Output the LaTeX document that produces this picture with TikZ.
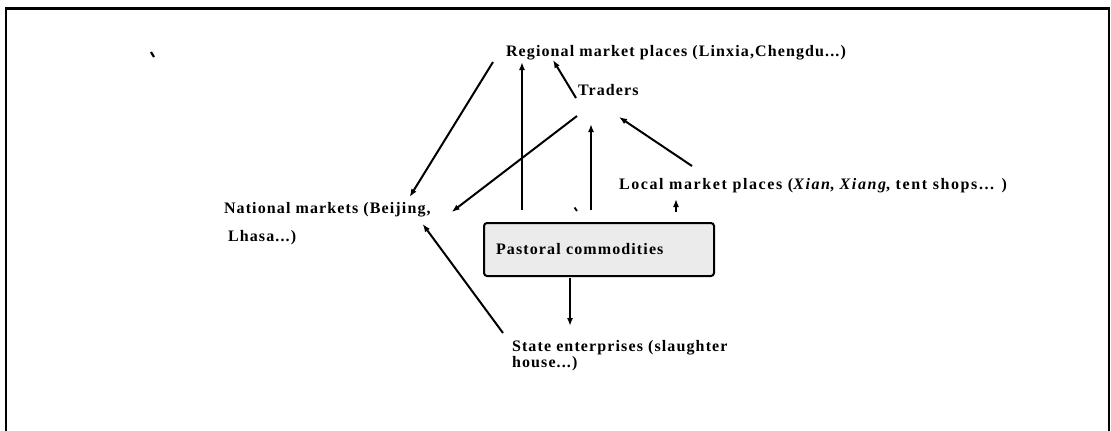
\documentclass[tikz,border=0pt]{standalone}
\usepackage{fontspec}
\usepackage{tikz}
\usetikzlibrary{arrows.meta, calc}
\setmainfont{Liberation Serif}
\newfontfamily\labelfont[LetterSpace=7]{Liberation Serif}
\newfontfamily\widefont[LetterSpace=10]{Liberation Serif}

\begin{document}
\begin{tikzpicture}[x=1pt, y=-1pt, line width=2pt,
    flow/.style={arrows={-Latex[length=8pt, width=6pt]}},
    label/.style={anchor=base west, inner sep=0pt,
                  font=\labelfont\bfseries\fontsize{16}{19}\selectfont},
    goods/.style={draw, rounded corners=3pt, fill=gray!16, anchor=north west,
                  minimum width=230pt, minimum height=53pt, text width=206pt,
                  inner xsep=12pt, align=left,
                  font=\labelfont\bfseries\fontsize{16}{19}\selectfont}]
      \useasboundingbox (0, 0) rectangle (1111, 431);

      % Draw frame.
      \draw [line width=2pt] (6, 440) -- (6, 8.5);
      \draw [line width=2pt] (1109, 8.5) -- (1109, 440);
      \draw [line width=3pt] (5, 8.5) -- (1110, 8.5);

      % Draw places.
      \node [label] (reg) at (505, 56) {Regional market places (Linxia,Chengdu...)};
      \node [label] (trd) at (577, 95) {Traders};
      \node [label] (nat) at (223, 213) {National markets (Beijing,};
      \node [label] (natb) at (227, 241.5) {Lhasa...)};
      \node [label, font=\widefont\bfseries\fontsize{16}{19}\selectfont] (loc) at (618, 189)
            {Local market places (\textit{Xian}, \textit{Xiang}, tent shops... )};
      \node [goods] (box) at (483, 222) {Pastoral commodities};
      \node [label] (sta) at (511, 351) {State enterprises (slaughter};
      \node [label] (stab) at (511, 367) {house...)};

      % Draw flows.
      \draw [flow] ($(reg.base west) + (-12, 6)$) --
            ($(nat.base east) + (-22, -16)$);
      \draw [flow] ($(box.north west) + (39, -12)$) --
            ($(reg.base west) + (17, 6)$);
      \draw [flow] ($(trd.base west) + (-1, 3)$) --
            ($(reg.base west) + (48, 4)$);
      \draw [flow] ($(trd.base west) + (0, 21)$) --
            ($(nat.base east) + (20, -1)$);
      \draw [flow] ($(box.north west) + (108, -12)$) --
            ($(trd.base west) + (14, 29)$);
      \draw [flow] ($(loc.base west) + (74, -23)$) --
            ($(trd.base west) + (42, 22)$);
      \draw [flow, line width=1.6pt] ($(box.north west) + (193, -10)$) --
            ($(loc.base west) + (58, 10)$);
      \draw [flow] ($(box.south west) + (87, 1)$) --
            ($(sta.base west) + (59, -25)$);
      \draw [flow] ($(sta.base west) + (-8, -18)$) --
            ($(nat.base east) + (-9, 11)$);

      % Stray ticks.
      \draw [line width=2.2pt] (151, 52) -- (154, 57);
      \draw [line width=1.8pt] (574.5, 207.5) -- (577, 211);
\end{tikzpicture}
\end{document}
